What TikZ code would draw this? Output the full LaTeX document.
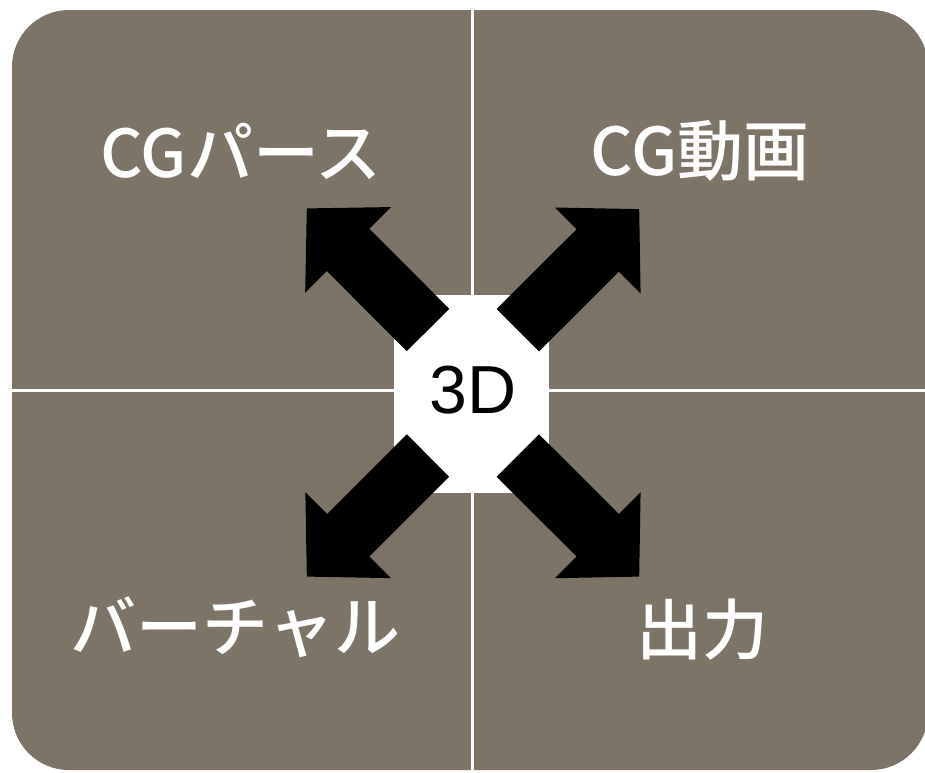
\documentclass[tikz,border=0pt]{standalone}
\usepackage{fontspec}
\newfontfamily\jp{Noto Sans CJK JP Medium}
\newfontfamily\lat{Liberation Sans}
\usetikzlibrary{arrows.meta}
\definecolor{panel}{HTML}{7B7467}
\tikzset{
  quadlabel/.style={text=white, font=\jp\fontsize{66}{70}\selectfont, inner sep=0pt},
  blockarrow/.style={draw=black, line width=60pt, -{Triangle[length=58.7pt, width=117.8pt]}},
  divider/.style={draw=white, line width=3pt}
}
\begin{document}
\begin{tikzpicture}[x=1pt, y=-1pt]
\useasboundingbox (0,0) rectangle (925,772);
\fill[panel, rounded corners=57pt] (12,10) rectangle (928,770);
\draw[divider] (472.7,10) -- (472.7,770);
\draw[divider] (12,390) -- (928,390);
\node[fill=white, minimum width=155pt, minimum height=198pt, inner sep=0pt] (c) at (471.5,394) {};
\node[font=\lat\fontsize{68}{70}\selectfont, inner sep=0pt] (t) at (473,390.5) {3D};
\coordinate (ul0) at (428,330);   \coordinate (ul1) at (306.7,208.3);
\coordinate (ur0) at (517.8,330.2); \coordinate (ur1) at (639.3,209);
\coordinate (ll0) at (428,455.5); \coordinate (ll1) at (306.7,576.7);
\coordinate (lr0) at (517.8,455.5); \coordinate (lr1) at (639.3,576.7);
\draw[blockarrow] (ul0) -- (ul1);
\draw[blockarrow] (ur0) -- (ur1);
\draw[blockarrow] (ll0) -- (ll1);
\draw[blockarrow] (lr0) -- (lr1);
\node[quadlabel] (a) at (241,151) {CGパース};
\node[quadlabel] (b) at (700,151) {CG動画};
\node[quadlabel] (d) at (235.5,627) {バーチャル};
\node[quadlabel] (e) at (702.5,630) {出力};
\end{tikzpicture}
\end{document}
